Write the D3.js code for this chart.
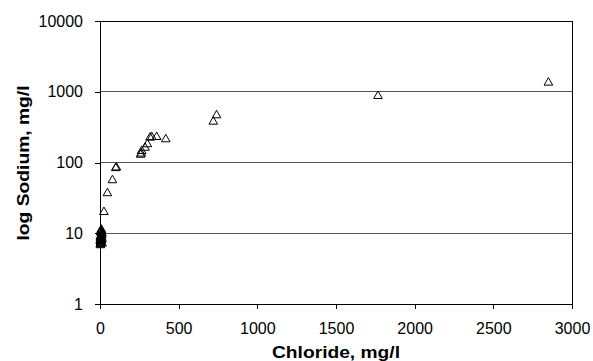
<!DOCTYPE html>
<html><head><meta charset="utf-8">
<script src="https://cdn.jsdelivr.net/npm/d3@7"></script>
<style>body{margin:0;background:#fff}svg{display:block}</style>
</head><body>
<script>
const chloride = [2,4,5,6,8,3,7,10,12,5,9,14,1,6,11,4,8,13,
  3,6,9,2,7,11,5,8,4,10,6,3,
  25,47,79,100,104,258,262,265,286,301,318,329,360,418,720,741,1767,2850];
const sodium = [7.2,7.6,8.0,8.4,8.8,9.2,9.6,10.0,10.4,10.8,11.2,7.4,8.2,9.0,9.8,10.6,11.4,8.6,
  7.0,7.8,8.3,8.9,9.4,10.2,10.9,11.6,7.3,9.1,11.0,8.0,
  20.6,38,58,86,88,133,138,150,167,187,232,236,237,220,390,480,900,1390];
const xTicks = [0,500,1000,1500,2000,2500,3000];
const yTicks = [1,10,100,1000,10000];
const xTitle = "Chloride, mg/l";
const yTitle = "log Sodium, mg/l";

const W = 593, H = 361;
const m = {l:100, r:21, t:21, b:57};
const svg = d3.select("body").append("svg").attr("width",W).attr("height",H);
const x = d3.scaleLinear().domain([0,3000]).range([m.l, W-m.r]);
const y = d3.scaleLog().domain([1,10000]).range([H-m.b, m.t]);
const font = "'Liberation Sans', Arial, sans-serif";

// gridlines
svg.append("g").selectAll("line").data(yTicks.slice(1,-1)).join("line")
  .attr("x1", m.l).attr("x2", W-m.r).attr("y1", d=>y(d)).attr("y2", d=>y(d))
  .attr("stroke","#555").attr("stroke-width",1).attr("shape-rendering","crispEdges");

// frame
svg.append("rect").attr("x",m.l).attr("y",m.t).attr("width",W-m.r-m.l).attr("height",H-m.b-m.t)
  .attr("fill","none").attr("stroke","#000").attr("shape-rendering","crispEdges");

const xAxis = svg.append("g").attr("transform",`translate(0,${H-m.b})`)
  .call(d3.axisBottom(x).tickValues(xTicks).tickSize(5).tickPadding(14).tickFormat(d3.format("d")));
const yAxis = svg.append("g").attr("transform",`translate(${m.l},0)`)
  .call(d3.axisLeft(y).tickValues(yTicks).tickSize(5).tickPadding(12).tickFormat(d3.format("d")));
[xAxis,yAxis].forEach(a=>{
  a.select(".domain").remove();
  a.selectAll("line").attr("stroke","#000").attr("shape-rendering","crispEdges");
  a.selectAll("text").attr("font-family",font).attr("font-size",16).attr("fill","#000");
});

// markers
const tri = {draw(ctx, size){ const w=4.3, h=7; ctx.moveTo(0,-h/2-0.5); ctx.lineTo(w,h/2); ctx.lineTo(-w,h/2); ctx.closePath(); }};
svg.append("g").selectAll("path").data(chloride.map((c,i)=>[c,sodium[i]])).join("path")
  .attr("transform", d=>`translate(${x(d[0])},${y(d[1])})`)
  .attr("d", d3.symbol(tri))
  .attr("fill","none").attr("stroke","#000").attr("stroke-width",1);

// titles
svg.append("text").attr("x",(m.l+W-m.r)/2).attr("y",358).attr("text-anchor","middle")
  .attr("font-family",font).attr("font-weight","bold").attr("font-size",16)
  .attr("textLength",128).attr("lengthAdjust","spacingAndGlyphs").text(xTitle);
svg.append("text").attr("transform","translate(29,163) rotate(-90)").attr("text-anchor","middle")
  .attr("font-family",font).attr("font-weight","bold").attr("font-size",16)
  .attr("textLength",155).attr("lengthAdjust","spacingAndGlyphs").text(yTitle);
</script>
</body></html>
